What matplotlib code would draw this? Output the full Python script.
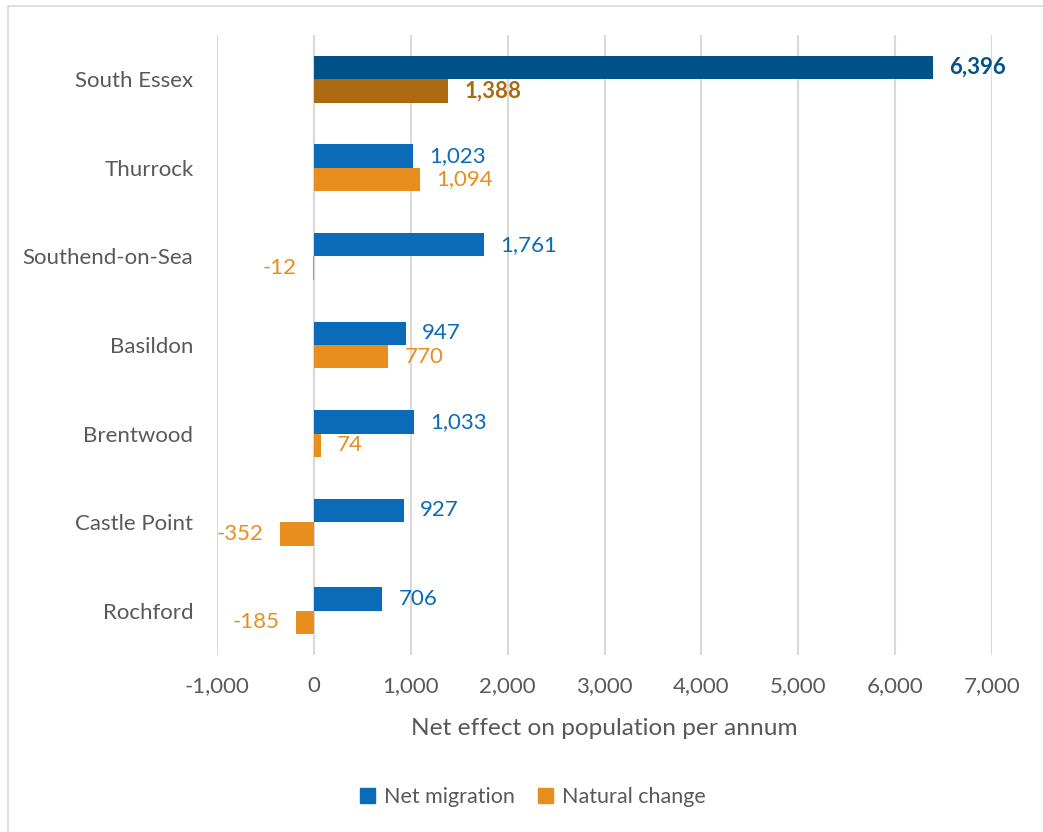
import matplotlib
matplotlib.use("Agg")
import matplotlib.pyplot as plt
from matplotlib.patches import Rectangle, Patch
import numpy as np

categories = ["South Essex", "Thurrock", "Southend-on-Sea", "Basildon",
              "Brentwood", "Castle Point", "Rochford"]
net_migration = [6396, 1023, 1761, 947, 1033, 927, 706]
natural_change = [1388, 1094, -12, 770, 74, -352, -185]
xticks = [-1000, 0, 1000, 2000, 3000, 4000, 5000, 6000, 7000]

BLUE = "#0A6BB8"
ORANGE = "#E88E1E"
DBLUE = "#005288"
DORANGE = "#AC6912"
TXT = "#595959"
FS = 16

plt.rcParams['font.family'] = ['Lato', 'DejaVu Sans']

fig = plt.figure(figsize=(10.43, 8.32), dpi=100)
W, H = 1043, 832
ax = fig.add_axes([217 / W, 1 - 655 / H, (992 - 217) / W, (655 - 35) / H])

# figure border
fig.patches.append(Rectangle((8 / W, -0.01), 1.02, 1 - 6 / H + 0.01, transform=fig.transFigure,
                             fill=False, edgecolor="#D9D9D9", linewidth=1.2))

n = len(categories)
y = np.arange(n)
h = 0.265
for i in range(n):
    cb = DBLUE if i == 0 else BLUE
    co = DORANGE if i == 0 else ORANGE
    ax.barh(y[i] - h / 2, net_migration[i], height=h, color=cb, zorder=3)
    ax.barh(y[i] + h / 2, natural_change[i], height=h, color=co, zorder=3)
    fw = "bold" if i == 0 else "normal"
    v = net_migration[i]
    ax.annotate(f"{v:,}", (v, y[i] - h / 2), xytext=(16 if v >= 0 else -16, 0),
                textcoords="offset pixels",
                ha="left" if v >= 0 else "right", va="center",
                color=cb, fontsize=FS, fontweight=fw)
    v = natural_change[i]
    ax.annotate(f"{v:,}", (v, y[i] + h / 2), xytext=(16 if v >= 0 else -16, 0),
                textcoords="offset pixels",
                ha="left" if v >= 0 else "right", va="center",
                color=co, fontsize=FS, fontweight=fw)

ax.set_xlim(-1000, 7000)
ax.set_ylim(n - 0.5, -0.5)
ax.set_xticks(xticks)
ax.set_xticklabels([f"{t:,}" for t in xticks])
ax.set_yticks(y)
ax.set_yticklabels(categories)
ax.tick_params(axis="both", length=0, labelsize=FS, labelcolor=TXT)
ax.tick_params(axis="x", pad=15)
ax.tick_params(axis="y", pad=17)
ax.grid(axis="x", color="#D9D9D9", linewidth=1.5, zorder=0)
ax.set_axisbelow(True)
for s in ax.spines.values():
    s.set_visible(False)
ax.axvline(0, color="#D9D9D9", linewidth=1.5, zorder=1)

ax.set_xlabel("Net effect on population per annum", fontsize=17.6, color=TXT, labelpad=16)

handles = [Patch(color=BLUE, label="Net migration"), Patch(color=ORANGE, label="Natural change")]
fig.legend(handles=handles, loc="center", bbox_to_anchor=(533 / W, 1 - 797 / H), ncol=2,
           frameon=False, fontsize=15.5, labelcolor=TXT, handlelength=0.7, handleheight=0.7,
           handletextpad=0.4, columnspacing=1.1)

fig.savefig("out.png", dpi=100)
